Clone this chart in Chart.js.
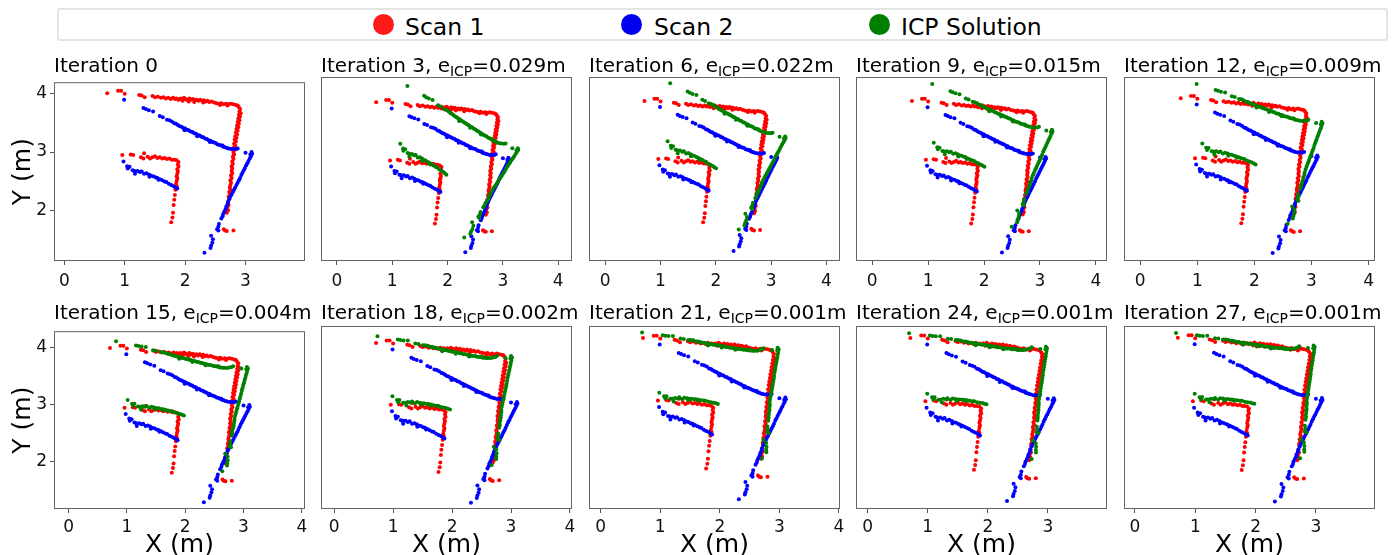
<!DOCTYPE html>
<html>
<head>
<meta charset="utf-8">
<script src="https://cdn.jsdelivr.net/npm/chart.js@4.4.1/dist/chart.umd.min.js"></script>
<style>
  body { margin: 0; background: #ffffff; }
  #fig { position: relative; width: 1396px; height: 555px; overflow: hidden; font-family: "DejaVu Sans", sans-serif; color: #000; }
  #fig canvas { position: absolute; }
  .ttl { position: absolute; font-size: 20px; line-height: 20px; white-space: nowrap; color: #000; }
  .ttl .sub { font-size: 14px; position: relative; top: 4px; }
  #legend { position: absolute; left: 57px; top: 8px; width: 1331px; height: 33px; border: 2px solid #e4e4e4; border-radius: 3px; box-sizing: border-box; }
  .lg-dot { position: absolute; width: 21px; height: 21px; border-radius: 50%; top: 14px; }
  .lg-txt { position: absolute; top: 15px; font-size: 23.5px; line-height: 24px; white-space: nowrap; }
</style>
</head>
<body>
<div id="fig">
  <div id="legend"></div>
  <div class="lg-dot" style="left:373px;background:#ff1a1a;"></div>
  <div class="lg-txt" style="left:405px;">Scan 1</div>
  <div class="lg-dot" style="left:621px;background:#0000f0;"></div>
  <div class="lg-txt" style="left:654px;">Scan 2</div>
  <div class="lg-dot" style="left:869px;background:#008000;"></div>
  <div class="lg-txt" style="left:901px;">ICP Solution</div>
</div>
<script>
// ---- data -------------------------------------------------------------
// Scan 1 (reference scan), metres
const scan1Points = [
  [0.71,4.00],[0.89,4.04],[0.94,4.04],[1.00,3.99],
  [1.24,3.97],[1.28,3.96],[1.33,3.93],
  [1.46,3.95],[1.50,3.93],[1.55,3.94],[1.60,3.92],[1.64,3.93],[1.68,3.91],[1.72,3.92],[1.76,3.90],
  [1.80,3.92],[1.83,3.90],[1.86,3.91],[1.89,3.89],[1.92,3.91],[1.95,3.89],[1.98,3.92],[2.01,3.90],
  [2.04,3.88],[2.07,3.91],[2.10,3.89],[2.13,3.90],[2.16,3.88],[2.19,3.89],[2.22,3.87],[2.25,3.89],
  [2.28,3.87],[2.31,3.88],[2.34,3.86],[2.37,3.87],[2.40,3.85],[2.44,3.86],[2.48,3.84],[2.52,3.83],
  [2.56,3.82],[2.60,3.83],[2.64,3.81],[2.68,3.82],[2.72,3.81],[2.76,3.82],[2.80,3.81],[2.84,3.80],
  [2.87,3.79],[1.96,3.87],[2.06,3.86],[2.15,3.85],[2.30,3.84],[2.58,3.80],[2.70,3.79],
  [2.89,3.76],[2.91,3.73],[2.90,3.69],[2.92,3.66],[2.89,3.63],[2.91,3.60],[2.88,3.57],[2.90,3.54],
  [2.87,3.51],[2.89,3.48],[2.86,3.45],[2.88,3.42],[2.85,3.39],[2.87,3.36],[2.84,3.33],[2.86,3.30],
  [2.83,3.27],[2.85,3.24],[2.82,3.21],[2.84,3.18],[2.81,3.14],[2.83,3.11],[2.80,3.07],[2.82,3.04],
  [2.80,3.00],[2.81,2.96],[2.79,2.92],[2.80,2.88],[2.78,2.84],[2.79,2.80],[2.77,2.76],[2.78,2.72],
  [2.77,2.68],[2.78,2.64],[2.76,2.60],[2.77,2.56],[2.75,2.52],[2.76,2.48],[2.75,2.44],[2.74,2.40],
  [2.75,2.36],[2.73,2.32],[2.74,2.28],[2.72,2.24],[2.73,2.20],[2.71,2.15],[2.72,2.10],[2.70,2.06],
  [2.71,2.01],[2.69,1.97],
  [2.64,1.69],[2.66,1.67],[2.69,1.66],[2.80,1.67],
  [0.96,2.95],[1.10,2.96],[1.14,2.95],[1.32,2.98],
  [1.27,2.91],[1.31,2.89],[1.38,2.92],[1.42,2.89],[1.46,2.91],[1.50,2.93],[1.54,2.90],[1.58,2.91],
  [1.62,2.89],[1.66,2.90],[1.70,2.88],[1.74,2.89],[1.78,2.87],[1.82,2.87],[1.86,2.86],
  [1.89,2.83],[1.88,2.79],[1.89,2.75],[1.87,2.71],[1.88,2.67],[1.87,2.63],[1.86,2.59],[1.87,2.55],
  [1.86,2.51],[1.85,2.46],[1.86,2.42],[1.84,2.36],[1.83,2.27],[1.82,2.19],[1.81,2.10],[1.80,1.97],
  [1.79,1.89],[1.77,1.81]
];

// Scan 2 (scan to be registered), metres
const scan2Points = [
  [0.99,3.89],
  [1.31,3.75],[1.35,3.73],[1.40,3.71],[1.47,3.69],[1.58,3.61],[1.63,3.59],[1.70,3.55],[1.74,3.54],
  [1.78,3.52],[1.82,3.49],[1.85,3.48],[1.88,3.46],[1.91,3.44],[1.94,3.43],[1.97,3.41],[2.00,3.40],
  [2.03,3.38],[2.06,3.37],[2.09,3.35],[2.12,3.34],[2.15,3.32],[2.18,3.31],[2.21,3.29],[2.24,3.28],
  [2.27,3.26],[2.30,3.25],[2.33,3.23],[2.36,3.22],[2.39,3.20],[2.42,3.19],[2.45,3.17],[2.48,3.16],
  [2.51,3.15],[2.54,3.13],[2.57,3.12],[2.60,3.11],[2.63,3.09],[2.66,3.08],[2.69,3.07],[2.72,3.06],
  [2.76,3.05],[2.80,3.05],[2.84,3.05],[2.87,3.06],[1.99,3.37],[2.20,3.27],[2.41,3.17],[2.62,3.11],
  [3.00,2.99],[3.08,2.96],[3.10,3.00],[3.11,2.97],[3.09,2.93],[3.07,2.89],[3.05,2.85],[3.03,2.81],
  [3.01,2.77],[2.99,2.73],[2.97,2.69],[2.95,2.65],[2.93,2.61],[2.91,2.56],[2.89,2.52],[2.87,2.48],
  [2.85,2.44],[2.83,2.40],[2.81,2.36],[2.79,2.32],[2.77,2.28],[2.75,2.24],[2.73,2.20],[2.71,2.15],
  [2.70,2.11],[2.68,2.07],[2.67,2.03],[2.65,1.99],[2.63,1.95],[2.62,1.91],[2.60,1.87],[2.56,1.78],
  [2.55,1.73],[2.53,1.69],[2.55,1.67],[2.43,1.58],[2.46,1.52],[2.45,1.46],[2.43,1.41],[2.42,1.37],
  [2.32,1.29],
  [0.98,2.84],[1.04,2.76],[1.05,2.72],[1.08,2.75],[1.13,2.69],[1.16,2.68],[1.17,2.63],[1.21,2.68],
  [1.25,2.66],[1.28,2.67],[1.32,2.63],[1.36,2.64],[1.40,2.62],[1.43,2.60],[1.47,2.59],[1.51,2.57],
  [1.54,2.56],[1.58,2.54],[1.62,2.52],[1.66,2.50],[1.69,2.49],[1.73,2.46],[1.77,2.44],[1.81,2.42],
  [1.84,2.40],[1.87,2.38],[1.41,2.58],[1.56,2.53]
];

const iterations = [0, 3, 6, 9, 12, 15, 18, 21, 24, 27];
const icpError   = [null, '0.029', '0.022', '0.015', '0.009', '0.004', '0.002', '0.001', '0.001', '0.001'];

// Estimated pose of scan 2 at each iteration (rotation in degrees, translation in m)
const poseThetaDeg = [null, -6.5, -2.0, 2.0, 6.0, 11.5, 14.5, 16.5, 17.3, 17.7];
const poseTx       = [null, -0.15, 0.05, 0.22, 0.41, 0.62, 0.75, 0.85, 0.90, 0.92];
const poseTy       = [null, 0.54, 0.47, 0.38, 0.28, 0.11, 0.10, 0.08, 0.07, 0.07];

// Axis limits of each panel
const panelXMin = [-0.171, -0.287, -0.293, -0.290, -0.284, -0.250, -0.224, -0.197, -0.196, -0.182];
const panelXMax = [ 3.985,  4.248,  4.244,  4.198,  4.112,  4.055,  4.035,  4.018,  3.986,  3.980];
const panelYMin = [ 1.150,  1.133,  1.108,  1.139,  1.151,  1.172,  1.183,  1.128,  1.159,  1.164];
const panelYMax = [ 4.186,  4.457,  4.434,  4.429,  4.373,  4.295,  4.288,  4.202,  4.199,  4.194];

// ---- layout -------------------------------------------------------------
const plotLeft = [54, 321, 589, 856, 1124];
const plotWidth = 251;
const rowTop = [77, 326];
const rowHeight = [184, 183];
const titleTop = [55, 302];
const FONT = 'DejaVu Sans';

function icpSolution(k) {
  const th = poseThetaDeg[k] * Math.PI / 180;
  const c = Math.cos(th), s = Math.sin(th);
  return scan2Points.map(([x, y]) => ({ x: c * x - s * y + poseTx[k], y: s * x + c * y + poseTy[k] }));
}

const framePlugin = {
  id: 'frame',
  afterDraw(chart) {
    const { ctx, chartArea: a } = chart;
    ctx.save();
    ctx.strokeStyle = '#666666';
    ctx.lineWidth = 1;
    ctx.strokeRect(a.left + 0.5, a.top + 0.5, a.right - a.left - 1, a.bottom - a.top - 1);
    ctx.restore();
  }
};

const fig = document.getElementById('fig');

iterations.forEach((it, k) => {
  const row = Math.floor(k / 5), col = k % 5;
  const left = plotLeft[col], top = rowTop[row], h = rowHeight[row];
  const isLeft = col === 0, isBottom = row === 1;
  const padTop = 8, padRight = 16, padLeft = isLeft ? 0 : 10;
  const bottomSpace = isBottom ? 555 - (top + h) : 34;
  const canvasLeft = isLeft ? 0 : left - padLeft;
  const cw = (left - canvasLeft) + plotWidth + padRight;
  const ch = padTop + h + bottomSpace;

  const cv = document.createElement('canvas');
  cv.width = cw; cv.height = ch;
  cv.style.left = canvasLeft + 'px';
  cv.style.top = (top - padTop) + 'px';
  cv.style.width = cw + 'px';
  cv.style.height = ch + 'px';
  fig.appendChild(cv);

  const ttl = document.createElement('div');
  ttl.className = 'ttl';
  ttl.style.left = left + 'px';
  ttl.style.top = titleTop[row] + 'px';
  ttl.innerHTML = k === 0 ? 'Iteration 0'
    : 'Iteration ' + it + ', e<span class="sub">ICP</span>=' + icpError[k] + 'm';
  fig.appendChild(ttl);

  const pt = { pointRadius: 2.0, pointBorderWidth: 0, pointHoverRadius: 0 };
  const datasets = [
    Object.assign({ label: 'Scan 1', data: scan1Points.map(([x, y]) => ({ x, y })), backgroundColor: '#ff0000', order: 2 }, pt),
    Object.assign({ label: 'Scan 2', data: scan2Points.map(([x, y]) => ({ x, y })), backgroundColor: '#0000ff', order: 1 }, pt)
  ];
  if (k > 0) {
    datasets.push(Object.assign({ label: 'ICP Solution', data: icpSolution(k), backgroundColor: '#008000', order: 0 }, pt));
  }

  const tickFont = { family: FONT, size: 17 };
  const gridOpts = { display: true, drawOnChartArea: false, drawTicks: true, tickLength: 4, tickColor: '#555555', tickWidth: 1 };

  new Chart(cv, {
    type: 'scatter',
    data: { datasets },
    options: {
      responsive: false,
      animation: false,
      devicePixelRatio: 1,
      events: [],
      layout: { padding: { top: padTop, right: padRight, left: padLeft, bottom: 0 } },
      plugins: { legend: { display: false }, tooltip: { enabled: false } },
      scales: {
        x: {
          type: 'linear', position: 'bottom',
          min: panelXMin[k], max: panelXMax[k],
          afterFit(s) { s.height = bottomSpace; },
          border: { display: false },
          grid: gridOpts,
          ticks: { stepSize: 1, includeBounds: false, font: tickFont, color: '#111111', padding: isBottom ? 4 : 6, maxRotation: 0, autoSkip: false },
          title: { display: isBottom, text: 'X (m)', font: { family: FONT, size: 25, lineHeight: 1 }, color: '#000', padding: { top: 0, bottom: -3 } }
        },
        y: {
          type: 'linear', position: 'left', display: isLeft,
          min: panelYMin[k], max: panelYMax[k],
          afterFit(s) { if (isLeft) s.width = left; },
          border: { display: false },
          grid: gridOpts,
          ticks: { stepSize: 1, includeBounds: false, font: tickFont, color: '#111111', padding: 3 },
          title: { display: isLeft, text: 'Y (m)', font: { family: FONT, size: 25 }, color: '#000', padding: { top: 8, bottom: 0 } }
        }
      }
    },
    plugins: [framePlugin]
  });
});
</script>
</body>
</html>
